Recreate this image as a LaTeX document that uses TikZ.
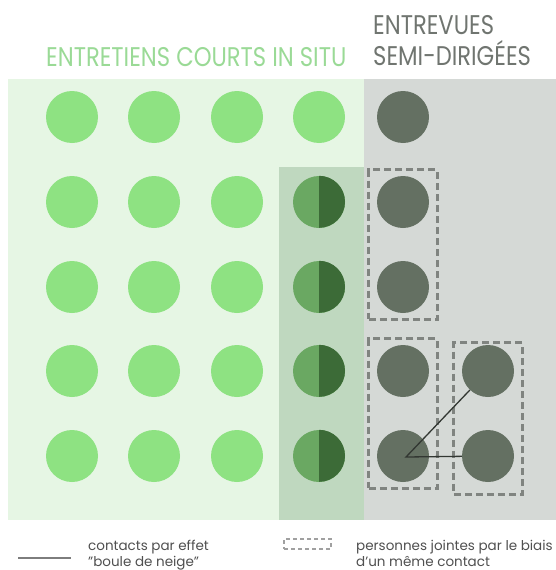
\documentclass[tikz,border=0pt]{standalone}
\usepackage{fontspec}
\setmainfont{Poppins}
\newfontfamily\titlefont[FakeStretch=0.84]{Poppins}
\usepackage{xcolor}
\usetikzlibrary{fit}

\definecolor{panelgreen}{RGB}{230,246,228}
\definecolor{panelgrey}{RGB}{213,217,214}
\definecolor{overlaygreen}{RGB}{191,216,191}
\definecolor{dotgreen}{RGB}{142,226,130}
\definecolor{dotgrey}{RGB}{100,112,98}
\definecolor{halfleft}{RGB}{106,168,98}
\definecolor{halfright}{RGB}{60,107,55}
\definecolor{boxgrey}{RGB}{128,132,128}
\definecolor{titlegreen}{RGB}{154,218,150}
\definecolor{titlegrey}{RGB}{112,117,112}
\definecolor{legendtext}{RGB}{80,80,80}

\tikzset{
greendot/.style={circle, fill=dotgreen, minimum size=52, inner sep=0},
greydot/.style={circle, fill=dotgrey, minimum size=52, inner sep=0},
halfdot/.style={circle, fill=halfleft, minimum size=52, inner sep=0},
groupbox/.style={draw=boxgrey, line width=3, dash pattern=on 7 off 4, inner xsep=8, inner ysep=6},
titletext/.style={anchor=base west, inner sep=0, font=\titlefont\fontsize{27}{30}\selectfont},
legendlabel/.style={anchor=base west, inner sep=0, align=left, text=legendtext, font=\fontsize{13.5}{16}\selectfont}
}
\newcommand{\darkhalf}[1]{\fill[halfright] (#1.north) arc[start angle=-90, end angle=90, radius=26] -- cycle;}

\begin{document}
\begin{tikzpicture}[x=1pt,y=1pt,yscale=-1]
\useasboundingbox (0,0) rectangle (556,570);
\fill[white] (0,0) rectangle (556,570);

%Shape: Rectangle [panels]
\fill[panelgreen] (8,79) rectangle (364,520);
\fill[panelgrey] (364,79) rectangle (556,520);
\fill[overlaygreen] (279,167) rectangle (364,520);

% Text Node
\node[titletext, text=titlegreen] (tcourts) at (46,66) {ENTRETIENS COURTS IN SITU};
% Text Node
\node[titletext, text=titlegrey] (tentrevues) at (373,34) {ENTREVUES};
% Text Node
\node[titletext, text=titlegrey] (tsemi) at (373,65) {SEMI-DIRIG\'EES};

%Shape: Circle [row 1]
\node[greendot] (a1) at (72,117) {};
\node[greendot] (b1) at (154,117) {};
\node[greendot] (c1) at (237,117) {};
\node[greendot] (d1) at (319,117) {};
\node[greydot] (e1) at (403,117) {};

%Shape: Circle [row 2]
\node[greendot] (a2) at (72,202) {};
\node[greendot] (b2) at (154,202) {};
\node[greendot] (c2) at (237,202) {};
\node[halfdot] (d2) at (319,202) {};
\darkhalf{d2}
\node[greydot] (e2) at (403,202) {};

%Shape: Circle [row 3]
\node[greendot] (a3) at (72,287) {};
\node[greendot] (b3) at (154,287) {};
\node[greendot] (c3) at (237,287) {};
\node[halfdot] (d3) at (319,287) {};
\darkhalf{d3}
\node[greydot] (e3) at (403,287) {};

%Shape: Circle [row 4]
\node[greendot] (a4) at (72,371) {};
\node[greendot] (b4) at (154,371) {};
\node[greendot] (c4) at (237,371) {};
\node[halfdot] (d4) at (319,371) {};
\darkhalf{d4}
\node[greydot] (e4) at (403,371) {};
\node[greydot] (f4) at (488,371) {};

%Shape: Circle [row 5]
\node[greendot] (a5) at (72,456) {};
\node[greendot] (b5) at (154,456) {};
\node[greendot] (c5) at (237,456) {};
\node[halfdot] (d5) at (319,456) {};
\darkhalf{d5}
\node[greydot] (e5) at (403,456) {};
\node[greydot] (f5) at (488,456) {};

%Shape: Dashed Rectangle [groups]
\node[groupbox, fit=(e2)(e3)] (grpA) {};
\node[groupbox, fit=(e4)(e5)] (grpB) {};
\node[groupbox, fit=(f4)(f5), yshift=-5, inner ysep=7] (grpC) {};

%Straight Lines [snowball]
\draw[line width=1.3, draw={rgb,255:red,50;green,55;blue,50}] (f4) -- ([xshift=3,yshift=1]e5.center) -- (f5);

%Legend
\coordinate (lineA) at (18,558);
\coordinate (lineB) at (71,558);
\draw[line width=2, draw={rgb,255:red,125;green,125;blue,125}] (lineA) -- (lineB);
\node[legendlabel] (lgline) at (88,566) {contacts par effet\\"boule de neige"};
\node[draw={rgb,255:red,160;green,160;blue,160}, line width=2, dash pattern=on 4 off 3, minimum width=47, minimum height=10, inner sep=0] (lgbox) at (307.5,544) {};
\node[legendlabel] (lgdash) at (356,566) {personnes jointes par le biais\\d'un même contact};

\end{tikzpicture}
\end{document}
